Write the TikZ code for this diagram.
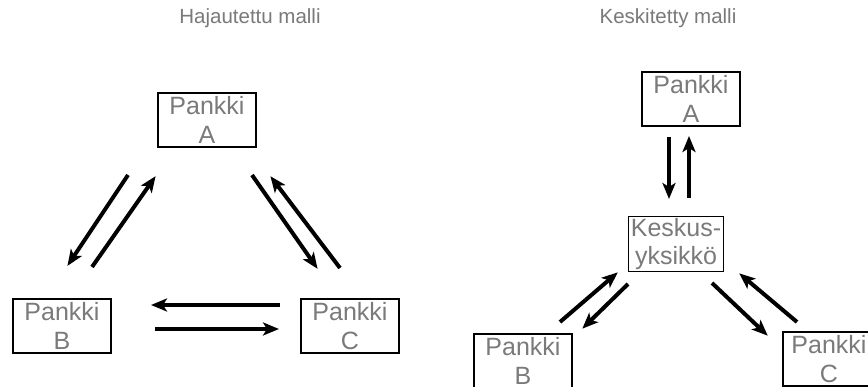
\documentclass[tikz,border=0pt]{standalone}
\usepackage{fontspec}
\setmainfont{Liberation Sans}
\usetikzlibrary{arrows.meta}
\definecolor{labelgray}{gray}{0.48}
\tikzset{
  bank/.style={draw=black, line width=1.3pt, minimum width=98pt, minimum height=54pt,
    inner sep=0pt, align=center, text=labelgray, font=\fontsize{25}{28.5}\selectfont},
  heading/.style={text=labelgray, font=\fontsize{20.5}{22}\selectfont, inner sep=0pt},
  flow/.style={line width=4pt, -{Stealth[length=16pt,width=13pt,inset=4pt]}, shorten >=-1pt},
}
\begin{document}
\begin{tikzpicture}[x=1pt,y=-1pt]
  \useasboundingbox (0,0) rectangle (868,387);
  \clip (0,0) rectangle (868,387);
  \fill[white] (0,0) rectangle (868,387);

  % titles
  \node[heading] (tl) at (250,18) {Hajautettu malli};
  \node[heading] (tr) at (668,18) {Keskitetty malli};

  % decentralised model
  \node[bank] (la) at (207,120) {Pankki\\A};
  \node[bank] (lb) at (62,326) {Pankki\\B};
  \node[bank] (lc) at (350,326) {Pankki\\C};

  % centralised model
  \node[bank] (ra) at (691,99) {Pankki\\A};
  \node[bank, minimum width=95pt, minimum height=55pt] (rk) at (676,244) {Keskus-\\yksikkö};
  \node[bank] (rb) at (523,361) {Pankki\\B};
  \node[bank, minimum width=92pt] (rc) at (829,359) {Pankki\\C};

  % arrow end points
  \coordinate (ab1) at (128,175); \coordinate (ab2) at (68,265);
  \coordinate (ba1) at (92,267);  \coordinate (ba2) at (155,177);
  \coordinate (ac1) at (252,175); \coordinate (ac2) at (317,268);
  \coordinate (ca1) at (340,268); \coordinate (ca2) at (271,177);
  \coordinate (cb1) at (280,305); \coordinate (cb2) at (152,305);
  \coordinate (bc1) at (155,329); \coordinate (bc2) at (278,329);

  \coordinate (ak1) at (669,137); \coordinate (ak2) at (669,198);
  \coordinate (ka1) at (689,198); \coordinate (ka2) at (689,137);
  \coordinate (bk1) at (560,322); \coordinate (bk2) at (617,273);
  \coordinate (kb1) at (628,284); \coordinate (kb2) at (583,328);
  \coordinate (kc1) at (712,283); \coordinate (kc2) at (767,335);
  \coordinate (ck1) at (797,322); \coordinate (ck2) at (740,274);

  \draw[flow] (ab1) -- (ab2);
  \draw[flow] (ba1) -- (ba2);
  \draw[flow] (ac1) -- (ac2);
  \draw[flow] (ca1) -- (ca2);
  \draw[flow] (cb1) -- (cb2);
  \draw[flow] (bc1) -- (bc2);

  \draw[flow] (ak1) -- (ak2);
  \draw[flow] (ka1) -- (ka2);
  \draw[flow] (bk1) -- (bk2);
  \draw[flow] (kb1) -- (kb2);
  \draw[flow] (kc1) -- (kc2);
  \draw[flow] (ck1) -- (ck2);
\end{tikzpicture}
\end{document}
